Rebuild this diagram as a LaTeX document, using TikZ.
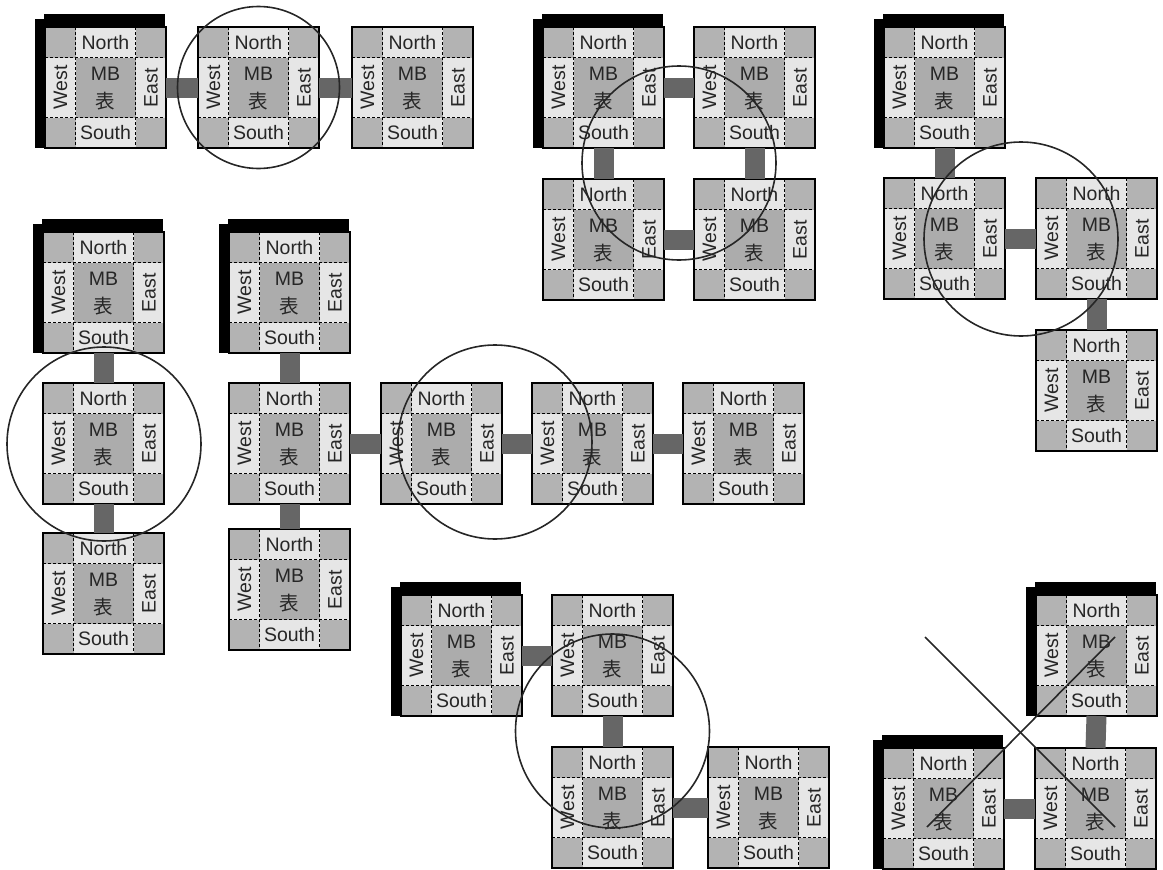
\documentclass[tikz,border=0pt]{standalone}
\usepackage{fontspec}
\setmainfont{Liberation Sans}
\newfontfamily\jpfont{Noto Sans CJK JP}
\usetikzlibrary{calc}
\definecolor{cornergray}{RGB}{179,179,179}
\definecolor{edgegray}{RGB}{230,230,230}
\definecolor{midgray}{RGB}{172,172,172}
\definecolor{linkgray}{RGB}{102,102,102}

\begin{document}
\begin{tikzpicture}[x=1pt,y=-1pt,
  font=\fontsize{19.5}{22}\selectfont,
  board/.style={rectangle,minimum width=121pt,minimum height=121pt,inner sep=0pt,
    outer sep=0pt,fill=cornergray},
  edgecell/.style={fill=edgegray},
  midcell/.style={fill=midgray},
  grid/.style={draw=black,line width=0.8pt,dash pattern=on 3pt off 2pt},
  frame/.style={draw=black,line width=1.4pt},
  lbl/.style={inner sep=0pt,text=black!85},
  mount/.style={fill=black},
  link/.style={draw=linkgray,line width=20pt},
  ring/.style={circle,draw=black!85,line width=1.6pt,inner sep=0pt},
  strike/.style={draw=black!85,line width=1.6pt}]

  \useasboundingbox (0,0) rectangle (1163,870);

  \foreach \brd/\x/\y in {a1/45/27,a2/198/27,a3/352/27,
      b1/543/27,b2/694/27,b3/543/179,b4/694/179,
      c1/884/27,c2/884/178,c3/1036/178,c4/1036/330,
      d1/43/232,d2/43/383,d3/43/533,
      e1/229/232,e2/229/383,e3/229/529,e4/381/383,e5/532/383,e6/683/383,
      f1/401/595,f2/552/595,f3/552/747,f4/708/747,
      g1/1036/595,g2/883/748,g3/1035/748}{
    \node[board] (\brd) at (\x+60.5,\y+60.5) {};
    \fill[edgecell] ($(\brd.north west)+(30.5,0)$) rectangle ($(\brd.south east)+(-30.5,0)$);
    \fill[edgecell] ($(\brd.north west)+(0,30.5)$) rectangle ($(\brd.south east)+(0,-30.5)$);
    \fill[midcell] ($(\brd.north west)+(30.5,30.5)$) rectangle ($(\brd.south east)+(-30.5,-30.5)$);
    \draw[grid] ($(\brd.north west)+(30.5,0)$) -- ($(\brd.south west)+(30.5,0)$)
                ($(\brd.north east)+(-30.5,0)$) -- ($(\brd.south east)+(-30.5,0)$)
                ($(\brd.north west)+(0,30.5)$) -- ($(\brd.north east)+(0,30.5)$)
                ($(\brd.south west)+(0,-30.5)$) -- ($(\brd.south east)+(0,-30.5)$);
    \draw[frame] (\brd.north west) rectangle (\brd.south east);
    \node[lbl] (\brd-n) at ($(\brd.north)+(0,15.5)$) {North};
    \node[lbl] (\brd-s) at ($(\brd.south)+(0,-15)$) {South};
    \node[lbl,rotate=90] (\brd-w) at ($(\brd.west)+(15.5,0)$) {West};
    \node[lbl,rotate=90] (\brd-e) at ($(\brd.east)+(-15,0)$) {East};
    \node[lbl] (\brd-mb) at ($(\brd.center)+(0,-14)$) {MB};
    \node[lbl] (\brd-jp) at ($(\brd.center)+(0,14)$) {\jpfont 表};
  }

  \foreach \brd in {a1,b1,c1,d1,e1,f1,g1,g2}{
    \fill[mount] ($(\brd.north west)+(-1,-13)$) rectangle ($(\brd.north east)+(-1,-1)$);
    \fill[mount] ($(\brd.north west)+(-10,-8)$) rectangle (\brd.south west);
  }

  \foreach \from/\to in {a1.east/a2.west,a2.east/a3.west,
      b1.east/b2.west,b1.south/b3.north,b2.south/b4.north,b3.east/b4.west,
      c1.south/c2.north,c2.east/c3.west,c3.south/c4.north,
      d1.south/d2.north,d2.south/d3.north,
      e1.south/e2.north,e2.south/e3.north,e2.east/e4.west,e4.east/e5.west,e5.east/e6.west,
      f1.east/f2.west,f2.south/f3.north,f3.east/f4.west,
      g1.south/g3.north,g2.east/g3.west}
    \draw[link] (\from) -- (\to);

  \node[ring,minimum size=162pt] (focusA) at (258.5,87.5) {};
  \node[ring,minimum size=194pt] (focusB) at (679,163) {};
  \node[ring,minimum size=194pt] (focusC) at (1021,239) {};
  \node[ring,minimum size=194pt] (focusD) at (104,444) {};
  \node[ring,minimum size=194pt] (focusE) at (495,442) {};
  \node[ring,minimum size=194pt] (focusF) at (612.5,731) {};

  \draw[strike] (925,637) -- (1115,827);
  \draw[strike] (927,827) -- (1115,637);

\end{tikzpicture}
\end{document}
